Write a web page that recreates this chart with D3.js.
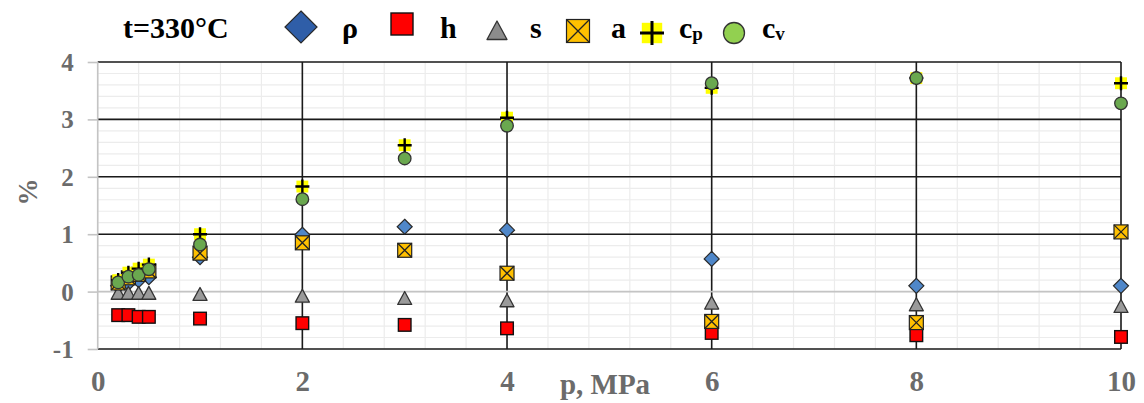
<!DOCTYPE html>
<html><head><meta charset="utf-8">
<script src="https://cdn.jsdelivr.net/npm/d3@7"></script>
<style>body{margin:0;background:#fff}svg{display:block}</style>
</head><body>
<script>
const pressures = [0.2, 0.3, 0.4, 0.5, 1, 2, 3, 4, 6, 8, 10];
const rho = [0.10, 0.15, 0.20, 0.25, 0.60, 0.99, 1.13, 1.07, 0.57, 0.10, 0.10];
const h   = [-0.41, -0.41, -0.44, -0.44, -0.47, -0.55, -0.58, -0.64, -0.72, -0.76, -0.79];
const s   = [-0.03, -0.03, -0.03, -0.03, -0.05, -0.08, -0.12, -0.16, -0.20, -0.23, -0.26];
const a   = [0.15, 0.24, 0.30, 0.36, 0.67, 0.85, 0.72, 0.32, -0.52, -0.54, 1.04];
const cp  = [0.20, 0.33, 0.40, 0.47, 1.00, 1.83, 2.55, 3.03, 3.55, 3.72, 3.63];
const cv  = [0.16, 0.26, 0.29, 0.39, 0.82, 1.61, 2.32, 2.89, 3.63, 3.72, 3.28];
const xTicks = [0, 2, 4, 6, 8, 10];
const yTicks = [-1, 0, 1, 2, 3, 4];
const title = "t=330°C";

const W = 1144, H = 403;
const svg = d3.select("body").append("svg").attr("width", W).attr("height", H);
const x = d3.scaleLinear().domain([0, 10]).range([97.7, 1121]);
const y = d3.scaleLinear().domain([-1, 4]).range([349, 62]);
const font = "'Liberation Serif','Times New Roman',serif";
const gray = "#6b6b6b";

const g = svg.append("g");
// minor grid
d3.range(-1, 4.001, 0.2).forEach(v => {
  g.append("line").attr("x1", x(0)).attr("x2", x(10)).attr("y1", y(v)).attr("y2", y(v))
    .attr("stroke", "#ececec").attr("stroke-width", 1.2);
});
d3.range(0, 10.001, 0.4).forEach(v => {
  g.append("line").attr("x1", x(v)).attr("x2", x(v)).attr("y1", y(-1)).attr("y2", y(4))
    .attr("stroke", "#ececec").attr("stroke-width", 1.2);
});
// major grid
yTicks.forEach(v => {
  if (v === 0) return;
  g.append("line").attr("x1", x(0)).attr("x2", x(10)).attr("y1", y(v)).attr("y2", y(v))
    .attr("stroke", "#1a1a1a").attr("stroke-width", 1.6);
});
xTicks.forEach(v => {
  if (v === 0) return;
  g.append("line").attr("x1", x(v)).attr("x2", x(v)).attr("y1", y(-1)).attr("y2", y(4))
    .attr("stroke", "#1a1a1a").attr("stroke-width", 1.6);
});
// axes lines (gray)
g.append("line").attr("x1", x(0)).attr("x2", x(10)).attr("y1", y(0)).attr("y2", y(0))
  .attr("stroke", "#c4c4c4").attr("stroke-width", 1.6);
g.append("line").attr("x1", x(0)).attr("x2", x(0)).attr("y1", y(-1)).attr("y2", y(4))
  .attr("stroke", "#c4c4c4").attr("stroke-width", 1.6);

// y axis via d3
const yAxis = d3.axisLeft(y).tickValues(yTicks).tickSize(10).tickPadding(14).tickFormat(d => String(d));
const ya = svg.append("g").attr("transform", `translate(${x(0)},0)`).call(yAxis);
ya.select(".domain").remove();
ya.selectAll(".tick line").attr("stroke", "#c4c4c4").attr("stroke-width", 1.6);
ya.selectAll(".tick text").attr("font-family", font).attr("font-weight", "bold")
  .attr("font-size", 25).attr("fill", gray).attr("dy", "0.34em");

const xAxis = d3.axisBottom(x).tickValues(xTicks).tickSize(0).tickPadding(0).tickFormat(d => String(d));
const xa = svg.append("g").attr("transform", `translate(0,${y(-1)})`).call(xAxis);
xa.select(".domain").remove();
xa.selectAll(".tick text").attr("font-family", font).attr("font-weight", "bold")
  .attr("font-size", 29).attr("fill", gray).attr("dy", "1.45em");

svg.append("text").attr("x", 605).attr("y", 394).attr("text-anchor", "middle")
  .attr("font-family", font).attr("font-weight", "bold").attr("font-size", 29).attr("fill", gray)
  .text("p, MPa");
svg.append("text").attr("transform", "translate(37,192) rotate(-90)").attr("text-anchor", "middle")
  .attr("font-family", font).attr("font-weight", "bold").attr("font-size", 27).attr("fill", gray)
  .text("%");

// marker drawing functions
function diamond(sel, cx, cy, r, fill) {
  sel.append("path").attr("d", `M${cx},${cy - r}L${cx + r},${cy}L${cx},${cy + r}L${cx - r},${cy}Z`)
    .attr("fill", fill).attr("stroke", "#2a2a2a").attr("stroke-width", 1.2);
}
function square(sel, cx, cy, r, fill) {
  sel.append("rect").attr("x", cx - r).attr("y", cy - r).attr("width", 2 * r).attr("height", 2 * r)
    .attr("fill", fill).attr("stroke", "#111").attr("stroke-width", 1.4);
}
function tri(sel, cx, cy, r, fill) {
  sel.append("path").attr("d", `M${cx},${cy - r}L${cx + r},${cy + r * 0.85}L${cx - r},${cy + r * 0.85}Z`)
    .attr("fill", fill).attr("stroke", "#333").attr("stroke-width", 1.3).attr("stroke-linejoin", "round");
}
function sqx(sel, cx, cy, r) {
  sel.append("rect").attr("x", cx - r).attr("y", cy - r).attr("width", 2 * r).attr("height", 2 * r)
    .attr("fill", "#FFC000").attr("stroke", "#222").attr("stroke-width", 1.2);
  sel.append("path").attr("d", `M${cx - r},${cy - r}L${cx + r},${cy + r}M${cx + r},${cy - r}L${cx - r},${cy + r}`)
    .attr("stroke", "#222").attr("stroke-width", 1.3);
}
function plus(sel, cx, cy, r, lw) {
  sel.append("rect").attr("x", cx - r * 0.85).attr("y", cy - r * 0.85).attr("width", 1.7 * r).attr("height", 1.7 * r)
    .attr("fill", "#FFFF00");
  sel.append("path").attr("d", `M${cx - r},${cy}L${cx + r},${cy}M${cx},${cy - r}L${cx},${cy + r}`)
    .attr("stroke", "#000").attr("stroke-width", lw);
}
function circ(sel, cx, cy, r, fill) {
  sel.append("circle").attr("cx", cx).attr("cy", cy).attr("r", r)
    .attr("fill", fill).attr("stroke", "#333").attr("stroke-width", 1.3);
}

const m = svg.append("g");
pressures.forEach((p, i) => diamond(m, x(p), y(rho[i]), 7.5, "#4f87c9"));
pressures.forEach((p, i) => square(m, x(p), y(h[i]), 6.3, "#FF0000"));
pressures.forEach((p, i) => tri(m, x(p), y(s[i]), 7, "#9a9a9a"));
pressures.forEach((p, i) => sqx(m, x(p), y(a[i]), 7));
pressures.forEach((p, i) => plus(m, x(p), y(cp[i]), 7, 2.4));
pressures.forEach((p, i) => circ(m, x(p), y(cv[i]), 6.3, "#6aa84f"));

// legend
const L = svg.append("g");
L.append("text").attr("x", 123).attr("y", 38).attr("font-family", font).attr("font-weight", "bold")
  .attr("font-size", 30).attr("fill", "#000").text(title);
function ltext(xp, txt, sub) {
  const t = L.append("text").attr("x", xp).attr("y", 38).attr("font-family", font).attr("font-weight", "bold")
    .attr("font-size", 30).attr("fill", "#000").text(txt);
  if (sub) t.append("tspan").attr("font-size", 19).attr("dy", 2).text(sub);
}
diamond(L, 301, 27, 16, "#2f5ea8");
ltext(342, "ρ");
square(L, 402, 24, 11, "#FF0000");
ltext(440, "h");
tri(L, 497, 31, 10, "#8c8c8c");
ltext(530, "s");
sqx(L, 578, 31, 11.5);
ltext(611, "a");
plus(L, 652, 33, 12, 3);
ltext(679, "c", "p");
circ(L, 734, 33, 10.5, "#92d050");
ltext(762, "c", "v");
</script>
</body></html>
